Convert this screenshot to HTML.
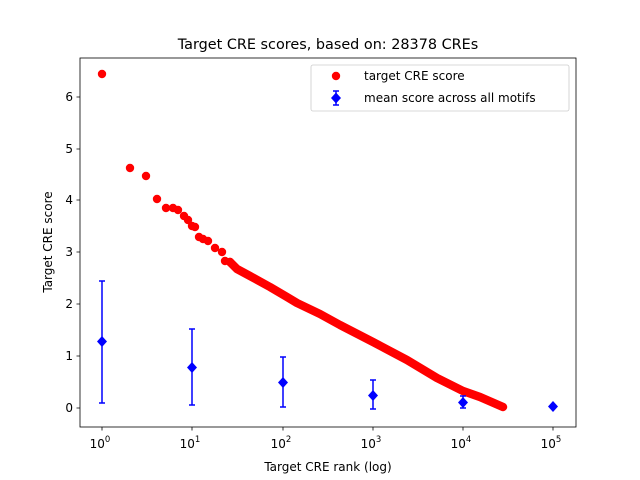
<html><body style="margin:0;background:#fff">
<svg width="640" height="480" xmlns="http://www.w3.org/2000/svg" font-family="DejaVu Sans, sans-serif">
<rect width="640" height="480" fill="#fff"/>
<text x="328" y="49" font-size="14.4" text-anchor="middle">Target CRE scores, based on: 28378 CREs</text>
<g fill="red">
<circle cx="102" cy="74" r="4.2"/><circle cx="130" cy="168" r="4.2"/><circle cx="146" cy="176" r="4.2"/><circle cx="157" cy="199" r="4.2"/><circle cx="166" cy="208" r="4.2"/><circle cx="173" cy="208" r="4.2"/><circle cx="178" cy="210" r="4.2"/><circle cx="184" cy="216" r="4.2"/><circle cx="188" cy="220" r="4.2"/><circle cx="192" cy="226" r="4.2"/><circle cx="195" cy="227" r="4.2"/><circle cx="199" cy="237" r="4.2"/><circle cx="203" cy="239" r="4.2"/><circle cx="208" cy="241" r="4.2"/><circle cx="215" cy="248" r="4.2"/><circle cx="222" cy="252" r="4.2"/><circle cx="225" cy="261" r="4.2"/><circle cx="230" cy="262" r="4.2"/>
</g>
<polyline points="230,262 237,269 250,276 270,287 287,297 297,303 320,314 340,325 373,342 407,360 437,378 463,391 480,397 503,407" fill="none" stroke="red" stroke-width="8.4" stroke-linecap="round" stroke-linejoin="round"/>
<g stroke="blue" stroke-width="1.5" fill="none">
<path d="M102,281V403M99,281H105M99,403H105"/>
<path d="M192,329V405M189,329H195M189,405H195"/>
<path d="M283,357V407M280,357H286M280,407H286"/>
<path d="M373,380V409M370,380H376M370,409H376"/>
<path d="M463,396V408M460,396H466M460,408H466"/>
</g>
<g fill="blue">
<path d="M102,336l5,5.5l-5,5.5l-5,-5.5z"/><path d="M192,362l5,5.5l-5,5.5l-5,-5.5z"/><path d="M283,377l5,5.5l-5,5.5l-5,-5.5z"/><path d="M373,390l5,5.5l-5,5.5l-5,-5.5z"/><path d="M463,397l5,5.5l-5,5.5l-5,-5.5z"/><path d="M553,401l5,5.5l-5,5.5l-5,-5.5z"/>
</g>
<rect x="80" y="58" width="496" height="369" fill="none" stroke="#000" stroke-width="0.8"/>
<g stroke="#000" stroke-width="0.8">
<path d="M102,427v3.5M192,427v3.5M283,427v3.5M373,427v3.5M463,427v3.5M553,427v3.5"/>
<path d="M80,408h-3.5M80,356h-3.5M80,304h-3.5M80,252h-3.5M80,200h-3.5M80,149h-3.5M80,97h-3.5"/>
</g>
<g font-size="12" text-anchor="end">
<text x="73" y="412">0</text><text x="73" y="360">1</text><text x="73" y="308">2</text><text x="73" y="256">3</text><text x="73" y="204">4</text><text x="73" y="153">5</text><text x="73" y="101">6</text>
</g>
<g font-size="12" text-anchor="middle">
<text x="100" y="448">10<tspan font-size="8.5" dy="-6">0</tspan></text>
<text x="190" y="448">10<tspan font-size="8.5" dy="-6">1</tspan></text>
<text x="281" y="448">10<tspan font-size="8.5" dy="-6">2</tspan></text>
<text x="371" y="448">10<tspan font-size="8.5" dy="-6">3</tspan></text>
<text x="461" y="448">10<tspan font-size="8.5" dy="-6">4</tspan></text>
<text x="551" y="448">10<tspan font-size="8.5" dy="-6">5</tspan></text>
</g>
<text x="328" y="471" font-size="12" text-anchor="middle">Target CRE rank (log)</text>
<text transform="translate(52,242) rotate(-90)" font-size="12" text-anchor="middle">Target CRE score</text>
<rect x="311" y="65" width="258" height="46" rx="2" fill="#fff" stroke="#ccc" stroke-width="0.8"/>
<circle cx="336" cy="76" r="4.2" fill="red"/>
<text x="364" y="80" font-size="12">target CRE score</text>
<path d="M336,91V105M333,91H339M333,105H339" stroke="blue" stroke-width="1.5"/>
<path d="M336,92.5l5,5.5l-5,5.5l-5,-5.5z" fill="blue"/>
<text x="364" y="102" font-size="12">mean score across all motifs</text>
</svg>
</body></html>
